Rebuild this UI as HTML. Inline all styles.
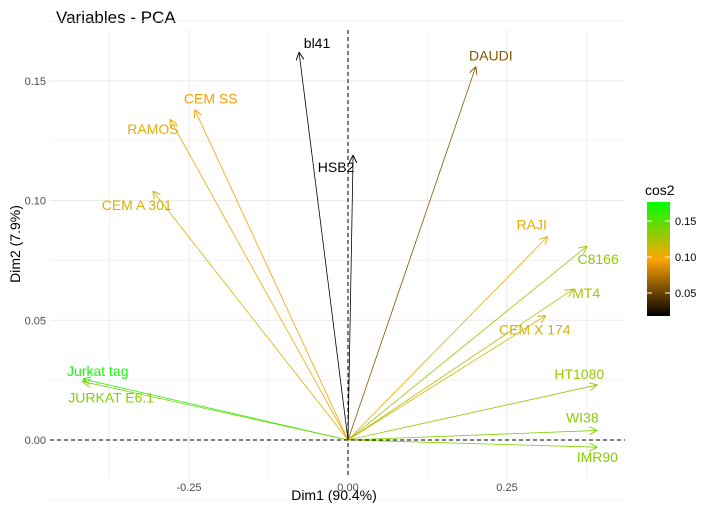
<!DOCTYPE html>
<html><head><meta charset="utf-8"><style>
body{margin:0;background:#fff;font-family:"Liberation Sans",sans-serif}
svg text{font-family:"Liberation Sans",sans-serif}
</style></head><body>
<svg id="chart" width="714" height="511" xmlns="http://www.w3.org/2000/svg">
<defs>
<linearGradient id="cg" x1="0" y1="1" x2="0" y2="0">
<stop offset="0" stop-color="#000000"/><stop offset="0.5" stop-color="#FFA500"/><stop offset="1" stop-color="#00FF00"/>
</linearGradient>
<marker id="ah" viewBox="0 0 10 10" refX="10" refY="5" markerWidth="8" markerHeight="8" orient="auto-start-reverse" markerUnits="userSpaceOnUse"><path d="M0,0 L10,5 L0,10" fill="none" stroke="context-stroke" stroke-width="1.2"/></marker>
</defs>
<text x="56" y="23" font-size="17" fill="#000">Variables - PCA</text>
<g id="grid"></g>
<g id="marks"></g>
<g id="axes"></g>
<text x="334" y="500" font-size="14" text-anchor="middle">Dim1 (90.4%)</text>
<text transform="translate(20,244) rotate(-90)" font-size="14" text-anchor="middle">Dim2 (7.9%)</text>
<text x="645" y="195" font-size="14">cos2</text>
<rect x="647" y="202" width="23" height="114" fill="url(#cg)"/>
<g id="legend"></g>
</svg>
<script>
const varNames=["bl41","DAUDI","HSB2","CEM SS","RAMOS","CEM A 301","RAJI","C8166","MT4","CEM X 174","HT1080","WI38","IMR90","Jurkat tag","JURKAT E6.1"];
const dim1=[-0.077,0.201,0.008,-0.241,-0.280,-0.307,0.314,0.376,0.354,0.311,0.392,0.392,0.392,-0.417,-0.418];
const dim2=[0.162,0.156,0.119,0.138,0.134,0.104,0.085,0.081,0.063,0.052,0.023,0.004,-0.003,0.0255,0.0245];
const cos2=[0.02,0.06,0.02,0.095,0.105,0.11,0.105,0.13,0.12,0.11,0.13,0.135,0.135,0.17,0.135];
const xTicks=[-0.25,0,0.25];const xTickLabels=["-0.25","0.00","0.25"];
const yTicks=[0,0.05,0.10,0.15];const yTickLabels=["0.00","0.05","0.10","0.15"];
const legTicks=[0.05,0.10,0.15];const legLabels=["0.05","0.10","0.15"];
const labelOff=[[18,-4],[15,-6],[-17,17],[16,-6],[-17,15],[-16,19],[-16,-7],[11,18],[13,9],[-11,19],[-18,-6],[-15,-8],[0,15],[15,-3],[29,21]];
const X0=50,X1=625,Y0=30,Y1=478;
const xs=v=>348+v*636, ys=v=>440-v*2394;
const ls=v=>257-(v-0.10)*720;
const NS="http://www.w3.org/2000/svg";
function mk(t,a,p){const e=document.createElementNS(NS,t);for(const k in a)e.setAttribute(k,a[k]);p.appendChild(e);return e;}
function col(c){const t=Math.max(0,Math.min(1,(c-0.018)/(0.176-0.018)));let r,g,b;
 if(t<0.5){const u=t/0.5;r=255*u;g=165*u;b=0;}else{const u=(t-0.5)/0.5;r=255*(1-u);g=165+90*u;b=0;}
 return `rgb(${r|0},${g|0},${b|0})`;}
const grid=document.getElementById('grid');
for(let v=-0.375;v<=0.4;v+=0.125){const l=mk('line',{x1:xs(v),x2:xs(v),y1:Y0,y2:Y1,stroke:'#ebebeb','stroke-width':Math.abs((v*4)%1)<0.01?1.1:0.6},grid);}
for(let v=-0.025;v<=0.18;v+=0.025){const l=mk('line',{x1:X0,x2:X1,y1:ys(v),y2:ys(v),stroke:'#ebebeb','stroke-width':Math.abs((v*20)%1)<0.01?1.1:0.6},grid);}
const axes=document.getElementById('axes');
let a=mk('line',{x1:X0,x2:X1,y1:ys(0),y2:ys(0),stroke:'#000','stroke-dasharray':'4,3'},axes);
a=mk('line',{x1:xs(0),x2:xs(0),y1:Y0,y2:Y1,stroke:'#000','stroke-dasharray':'4,3'},axes);
xTicks.forEach((v,i)=>{const t=mk('text',{x:xs(v),y:Y1+13,'font-size':11,fill:'#4d4d4d','text-anchor':'middle'},axes);t.textContent=xTickLabels[i];});
yTicks.forEach((v,i)=>{const t=mk('text',{x:X0-4,y:ys(v)+4,'font-size':11,fill:'#4d4d4d','text-anchor':'end'},axes);t.textContent=yTickLabels[i];});
const marks=document.getElementById('marks');
varNames.forEach((n,i)=>{const c=col(cos2[i]);
 const l=mk('line',{x1:xs(0),y1:ys(0),x2:xs(dim1[i]),y2:ys(dim2[i]),stroke:c,'stroke-width':0.8,'marker-end':'url(#ah)'},marks);
 
 const o=labelOff[i];const t=mk('text',{x:xs(dim1[i])+o[0],y:ys(dim2[i])+o[1],'font-size':14,fill:c,'text-anchor':'middle'},marks);t.textContent=n;
 });
const leg=document.getElementById('legend');
legTicks.forEach((v,i)=>{[647,665].forEach(x=>{const l=mk('line',{x1:x,x2:x+5,y1:ls(v),y2:ls(v),stroke:'#fff'},leg);});
 const t=mk('text',{x:675,y:ls(v)+4,'font-size':11,fill:'#000'},leg);t.textContent=legLabels[i];});
</script>
</body></html>
